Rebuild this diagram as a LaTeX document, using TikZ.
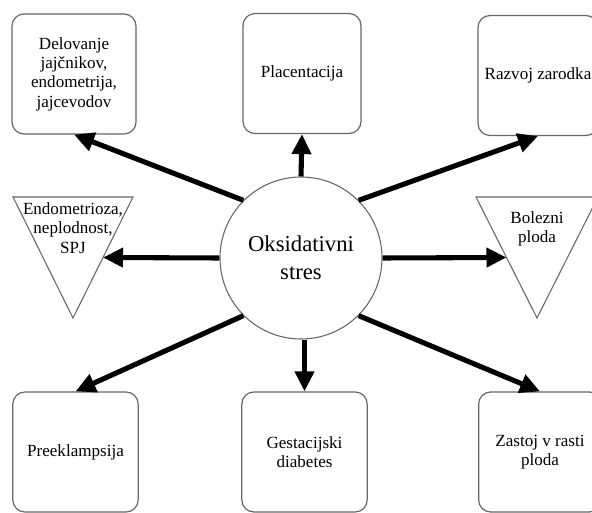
\documentclass[tikz,border=0pt]{standalone}
\usepackage{fontspec}
\setmainfont{Liberation Serif}
\usetikzlibrary{arrows.meta,positioning,calc}

\begin{document}
\begin{tikzpicture}[x=0.75pt,y=-0.75pt,
  box/.style={draw=black!60,line width=0.9pt,rounded corners=9pt,
    minimum width=#1,minimum height=90pt,inner sep=2pt,align=center,
    font=\fontsize{12.8}{14.5}\selectfont},
  box/.default=93pt,
  tri/.style={draw=black!60,line width=0.8pt},
  lbl/.style={align=center,inner sep=0pt,font=\fontsize{12.8}{14.5}\selectfont},
  arr/.style={line width=3.8pt,-{Triangle[length=15pt,width=14pt]}}]
  \useasboundingbox (0,0) rectangle (592,513);
  \clip (0,0) rectangle (592,513);

  % centre
  \node[circle,draw=black!60,line width=0.8pt,minimum size=121.5pt,inner sep=0pt,
    align=center,font=\fontsize{17}{21}\selectfont] (stres) at (301,258)
    {\rule{0pt}{10pt}Oksidativni\\stres};

  % boxes
  \node[box=93pt]   (jajcnik) at (74,74)    {Delovanje\\jajčnikov,\\endometrija,\\jajcevodov};
  \node[box=88.5pt] (placenta) at (302,73.5) {Placentacija};
  \node[box=90pt]   (zarodek) at (538,75.5) {Razvoj zarodka};
  \node[box=94pt]   (preekl) at (75.5,452)  {Preeklampsija};
  \node[box=94pt]   (diabet) at (304.5,452) {Gestacijski\\diabetes};
  \node[box=92pt]   (zastoj) at (540,452)   {Zastoj v rasti\\ploda};

  % triangles
  \coordinate (L1) at (13,197);
  \coordinate (L2) at (133,197);
  \coordinate (L3) at (73,318);
  \draw[tri] (L1) -- (L2) -- (L3) -- cycle;
  \node[lbl] (endo) at (73,228) {Endometrioza,\\neplodnost,\\SPJ};
  \coordinate (Lend) at ($(L2)!0.5!(L3)$);

  \coordinate (R1) at (476,197);
  \coordinate (R2) at (598,197);
  \coordinate (R3) at (537,318);
  \draw[tri] (R1) -- (R2) -- (R3) -- cycle;
  \node[lbl] (plod) at (537,229) {Bolezni\\ploda};
  \coordinate (Rend) at ($(R1)!0.5!(R3)$);

  % arrows
  \draw[arr] (stres.135) -- (jajcnik.south);
  \draw[arr] (stres.north) -- (placenta.south);
  \draw[arr] (stres.45) -- (zarodek.south);
  \draw[arr] (stres.west) -- (Lend);
  \draw[arr] (stres.east) -- (Rend);
  \draw[arr] (stres.225) -- (preekl.north);
  \draw[arr] (stres.south -| diabet.north) -- (diabet.north);
  \draw[arr] (stres.-45) -- (zastoj.north);
\end{tikzpicture}
\end{document}
